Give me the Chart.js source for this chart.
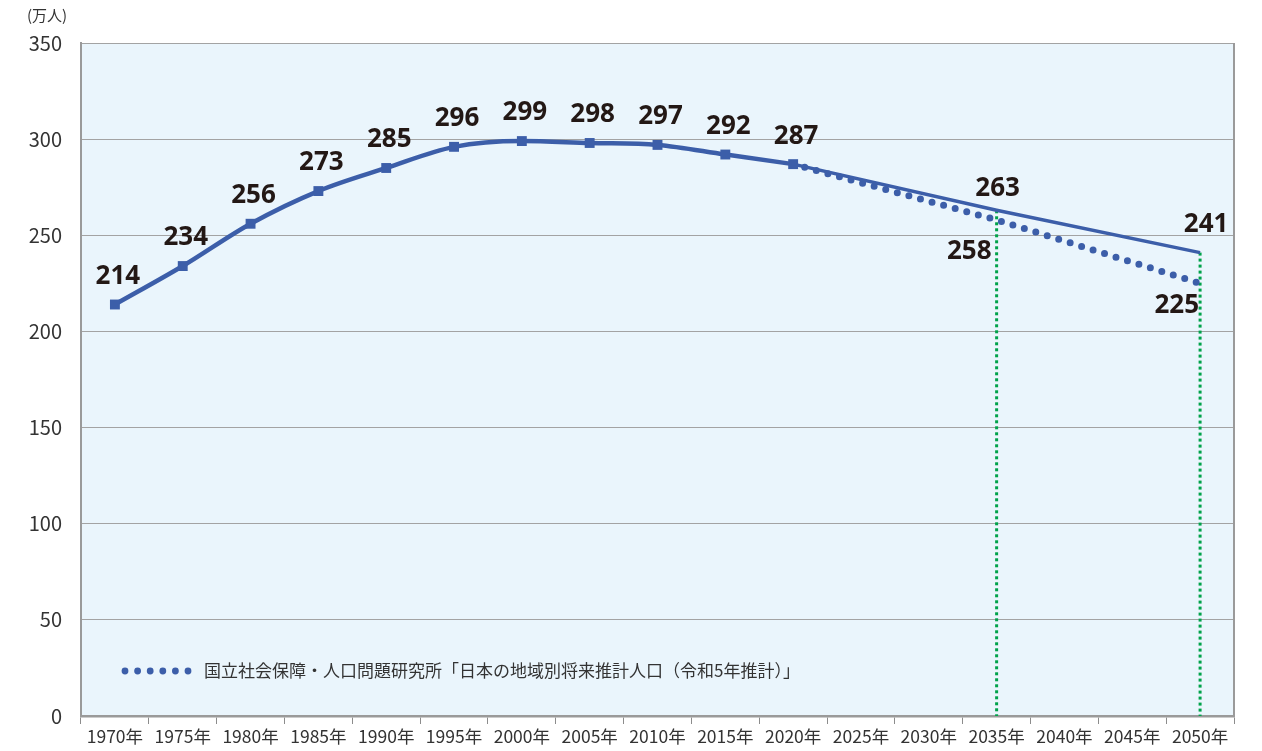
<!DOCTYPE html>
<html><head><meta charset="utf-8">
<script src="https://cdn.jsdelivr.net/npm/chart.js@4.4.0/dist/chart.umd.min.js"></script>
<style>html,body{margin:0;padding:0;background:#fff}#wrap{width:1262px;height:751px}</style>
</head><body><div id="wrap"><canvas id="c" width="1262" height="751"></canvas></div>
<script>
const categories = ['1970年','1975年','1980年','1985年','1990年','1995年','2000年','2005年','2010年','2015年','2020年','2025年','2030年','2035年','2040年','2045年','2050年'];
const actual     = [214,234,256,273,285,296,299,298,297,292,287,null,null,null,null,null,null];
const projSolid  = [null,null,null,null,null,null,null,null,null,null,287,null,null,263,null,null,241];
const projDotted = [null,null,null,null,null,null,null,null,null,null,287,null,null,258,null,null,225];
const yTicks = [0,50,100,150,200,250,300,350];
const unitLabel = '(万人)';
const legendLabel = '国立社会保障・人口問題研究所「日本の地域別将来推計人口（令和5年推計）」';
const guideYears = ['2035年','2050年'];

const BLUE = '#3c5ea9';
const LABEL = '#231815';
const JP = '"Noto Sans CJK JP","Noto Sans",sans-serif';

const deco = {
  id:'deco',
  beforeDraw(chart){
    const {ctx, chartArea:a} = chart;
    ctx.save();
    ctx.fillStyle = '#eaf5fc';
    ctx.fillRect(a.left, a.top, a.right-a.left, a.bottom-a.top);
    ctx.restore();
  },
  beforeDatasetsDraw(chart){
    const {ctx, scales:{x,y}} = chart;
    ctx.save();
    ctx.strokeStyle = '#00a24a';
    ctx.lineWidth = 3;
    ctx.setLineDash([3,3]);
    guideYears.forEach(g=>{
      const i = categories.indexOf(g);
      const px = x.getPixelForValue(i);
      ctx.beginPath();
      ctx.moveTo(px, y.getPixelForValue(projSolid[i]));
      ctx.lineTo(px, y.getPixelForValue(0));
      ctx.stroke();
    });
    ctx.restore();
  },
  afterDraw(chart){
    const {ctx, chartArea:a, scales:{x,y}} = chart;
    ctx.save();
    ctx.strokeStyle = '#9a9a9a';
    ctx.lineWidth = 2;
    ctx.beginPath(); ctx.moveTo(a.right, a.top); ctx.lineTo(a.right, a.bottom); ctx.stroke();
    ctx.fillStyle = '#333';
    ctx.font = '15px ' + JP;
    ctx.textAlign = 'left'; ctx.textBaseline = 'middle';
    ctx.fillText(unitLabel, 27, 15);
    ctx.fillStyle = BLUE;
    for (let k=0;k<6;k++){ ctx.beginPath(); ctx.arc(125+k*12.6, 671, 3.4, 0, Math.PI*2); ctx.fill(); }
    ctx.fillStyle = '#333';
    ctx.font = '17px ' + JP;
    ctx.fillText(legendLabel, 204, 671);
    ctx.fillStyle = LABEL;
    ctx.font = 'bold 26px "Noto Sans",sans-serif';
    ctx.textBaseline = 'middle';
    ctx.textAlign = 'center';
    actual.forEach((v,i)=>{
      if (v==null) return;
      ctx.fillText(String(v), x.getPixelForValue(i)+3, y.getPixelForValue(v)-28);
    });
    const i35 = categories.indexOf('2035年'), i50 = categories.indexOf('2050年');
    ctx.fillText(String(projSolid[i35]), x.getPixelForValue(i35)+1, y.getPixelForValue(projSolid[i35])-22);
    ctx.fillText(String(projSolid[i50]), x.getPixelForValue(i50)+6, y.getPixelForValue(projSolid[i50])-28);
    ctx.textAlign = 'right';
    ctx.fillText(String(projDotted[i35]), x.getPixelForValue(i35)-5, y.getPixelForValue(projDotted[i35])+32);
    ctx.fillText(String(projDotted[i50]), x.getPixelForValue(i50)-1, y.getPixelForValue(projDotted[i50])+22);
    ctx.restore();
  }
};

new Chart(document.getElementById('c'), {
  type:'line',
  data:{
    labels: categories,
    datasets:[
      {data: projDotted, borderColor: BLUE, borderWidth: 7, borderDash:[0,12], borderCapStyle:'round', pointRadius:0, spanGaps:true, tension:0, order:3},
      {data: projSolid, borderColor: BLUE, borderWidth: 3.5, pointRadius:0, spanGaps:true, tension:0, order:2},
      {data: actual, borderColor: BLUE, backgroundColor: BLUE, borderWidth: 4.5, pointStyle:'rect', pointRadius:7, pointBorderWidth:0, cubicInterpolationMode:'monotone', order:1}
    ]
  },
  plugins:[deco],
  options:{
    responsive:false, animation:false, devicePixelRatio:1,
    layout:{padding:{left:0, right:28, top:43, bottom:0}},
    plugins:{legend:{display:false}, tooltip:{enabled:false}},
    scales:{
      x:{
        offset:true,
        grid:{display:true, drawOnChartArea:false, drawTicks:true, tickLength:8, offset:true, color:'#8c8c8c', lineWidth:1},
        border:{display:true, color:'#9a9a9a', width:2.5},
        ticks:{color:'#333', font:{family:JP, size:17.5}, padding:2, autoSkip:false, maxRotation:0, minRotation:0},
        afterFit(s){ s.height = 35; }
      },
      y:{
        min:0, max:350,
        afterBuildTicks(s){ s.ticks = yTicks.map(v=>({value:v})); },
        grid:{color:'#a3a3a3', lineWidth:1, drawTicks:false},
        border:{display:true, color:'#9a9a9a', width:2},
        ticks:{color:'#333', font:{family:JP, size:20}, padding:19},
        afterFit(s){ s.width = 81; }
      }
    }
  }
});
</script></body></html>
